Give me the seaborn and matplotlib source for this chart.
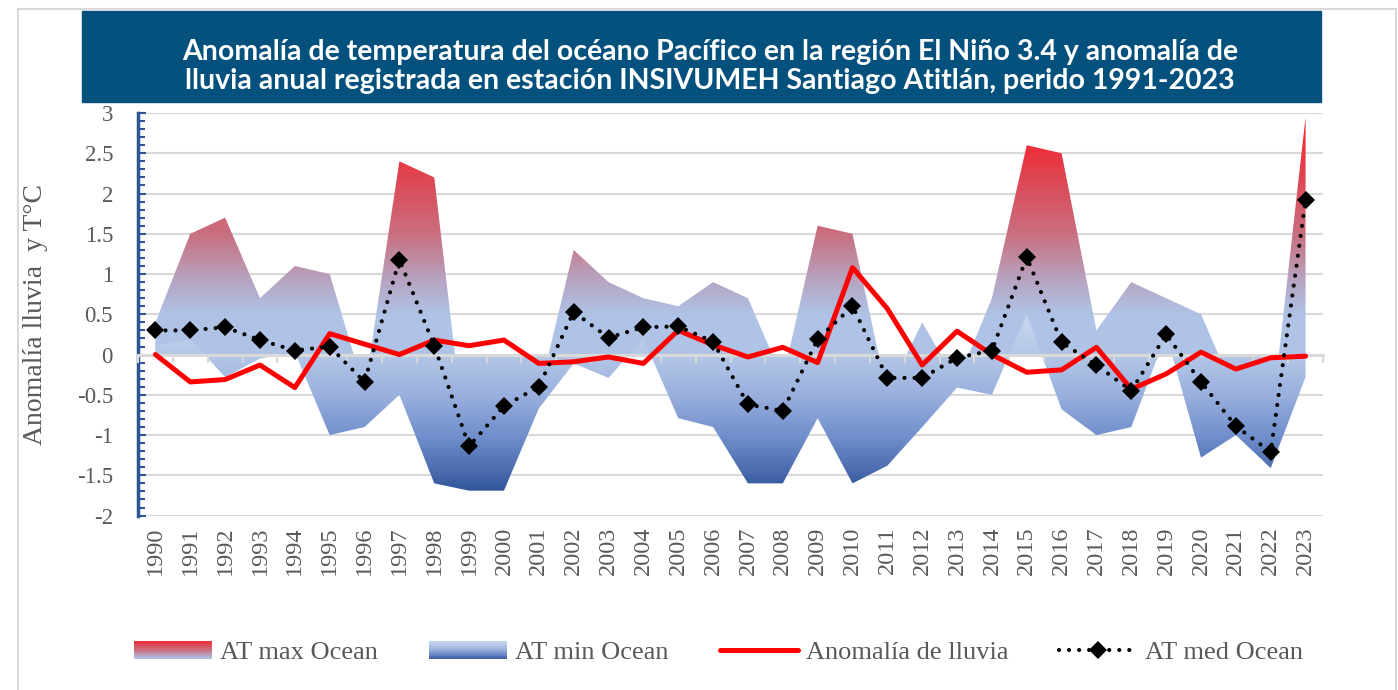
import numpy as np
import pandas as pd
import matplotlib.pyplot as plt
import seaborn as sns
from matplotlib.colors import LinearSegmentedColormap, Normalize
from matplotlib.legend_handler import HandlerBase
from matplotlib.patches import Rectangle
from matplotlib.lines import Line2D
from matplotlib.ticker import MultipleLocator, FuncFormatter

# --- datos ---
years = list(range(1990, 2024))
at_max = [0.4, 1.5, 1.7, 0.7, 1.1, 1.0, -0.45, 2.4, 2.2, -1.5,
          -1.2, -0.5, 1.3, 0.9, 0.7, 0.6, 0.9, 0.7, -0.3, 1.6,
          1.5, -0.5, 0.4, -0.35, 0.7, 2.6, 2.5, 0.3, 0.9, 0.7,
          0.5, -0.5, -0.9, 2.95]
at_min = [0.12, 0.19, -0.28, -0.05, 0.03, -1.0, -0.9, -0.5, -1.6, -1.69,
          -1.69, -0.67, -0.11, -0.29, 0.2, -0.79, -0.9, -1.6, -1.6, -0.79,
          -1.6, -1.38, -0.9, -0.41, -0.5, 0.5, -0.68, -1.0, -0.9, 0.25,
          -1.28, -1.0, -1.41, -0.28]
lluvia = [0.0, -0.34, -0.31, -0.13, -0.41, 0.26, 0.13, 0.0, 0.18, 0.11,
          0.18, -0.11, -0.09, -0.03, -0.11, 0.30, 0.12, -0.03, 0.09, -0.10,
          1.08, 0.57, -0.13, 0.29, 0.0, -0.22, -0.19, 0.09, -0.43, -0.24,
          0.03, -0.18, -0.04, -0.02]
at_med = [0.30, 0.30, 0.34, 0.18, 0.05, 0.10, -0.34, 1.18, 0.11, -1.14,
          -0.64, -0.40, 0.53, 0.21, 0.34, 0.35, 0.16, -0.62, -0.70, 0.19,
          0.60, -0.29, -0.29, -0.04, 0.05, 1.21, 0.15, -0.13, -0.45, 0.25,
          -0.34, -0.89, -1.21, 1.92]

titulo = ("Anomalía de temperatura del océano Pacífico en la región El Niño 3.4 y anomalía de\n"
          "lluvia anual registrada en estación INSIVUMEH Santiago Atitlán, perido 1991-2023")
ylabel = "Anomalía lluvia  y T°C"
nombres = ["AT max Ocean", "AT min Ocean", "Anomalía de lluvia", "AT med Ocean"]

df = pd.DataFrame({"year": years, "lluvia": lluvia, "med": at_med})

YLO, YHI = -2, 3
def make_cmap(stops):
    return LinearSegmentedColormap.from_list(
        "g", [((y - YLO) / (YHI - YLO), c) for y, c in stops])

cmap_max = make_cmap([(-2, "#afc3e6"), (0.5, "#afc3e6"), (0.9, "#b6a6c4"),
                      (1.5, "#c87080"), (2.4, "#e63a46"), (3.0, "#ff1a25")])
cmap_min = make_cmap([(-2, "#2f5597"), (-1.7, "#2f5597"), (-1.45, "#4b6baf"),
                      (-1.0, "#7290cc"), (-0.5, "#9ab0de"), (0.0, "#b4c7e7"),
                      (0.5, "#c9d7f0"), (3, "#d0ddf2")])
norm = Normalize(YLO, YHI)


class GradHandler(HandlerBase):
    def __init__(self, cmap, lo, hi):
        super().__init__()
        self.cmap, self.lo, self.hi = cmap, lo, hi

    def create_artists(self, legend, orig_handle, xdescent, ydescent,
                       width, height, fontsize, trans):
        n = 24
        out = []
        for i in range(n):
            v = self.lo + (self.hi - self.lo) * (i + 0.5) / n
            out.append(Rectangle((-xdescent, -ydescent + height * i / n),
                                 width, height / n + 0.3, lw=0,
                                 facecolor=self.cmap(norm(v)), transform=trans))
        return out


sns.set_theme(style="white")
plt.rcParams["font.family"] = ["Liberation Serif", "DejaVu Serif"]

fig = plt.figure(figsize=(13.98, 6.90), dpi=100)
fig.patches.append(Rectangle((18 / 1398, -0.05), 1378 / 1398, 1.05 - 9 / 690,
                             transform=fig.transFigure, fill=False,
                             edgecolor="#d9d9d9", lw=1.5))
fig.patches.append(Rectangle((82 / 1398, 1 - 102 / 690), 1239 / 1398, 91 / 690,
                             transform=fig.transFigure, color="#03517c"))
fig.text(710 / 1398, 0.904, titulo, ha="center", va="center", color="white",
         fontweight="bold", fontsize=20.5, linespacing=1.15,
         family=["Lato", "DejaVu Sans"])

ax = fig.add_axes([138 / 1398, 1 - 515.6 / 690, 1185 / 1398, 402.6 / 690])

# áreas con degradado
grad = np.linspace(YLO, YHI, 600).reshape(-1, 1)
for serie, cmap, z in [(at_max, cmap_max, 1), (at_min, cmap_min, 2)]:
    poly = ax.fill_between(years, 0, serie, facecolor="none", edgecolor="none")
    im = ax.imshow(grad, cmap=cmap, norm=norm, origin="lower", aspect="auto",
                   extent=[years[0] - 0.5, years[-1] + 0.5, YLO, YHI], zorder=z)
    im.set_clip_path(poly.get_paths()[0], transform=ax.transData)

sns.lineplot(data=df, x="year", y="lluvia", color="#ff0000", lw=3.6, ax=ax,
             zorder=5, legend=False)
sns.lineplot(data=df, x="year", y="med", color="black", lw=3,
             linestyle=(0, (0.01, 2.4)), dash_capstyle="round", marker="D",
             markersize=9, markeredgewidth=0, ax=ax, zorder=6, legend=False)

ax.set_xlim(years[0] - 0.5, years[-1] + 0.5)
ax.set_ylim(YLO, YHI)

# eje horizontal en cero
sec = ax.secondary_xaxis((0 - YLO) / (YHI - YLO))
sec.set_xticks(np.arange(years[0] - 0.5, years[-1] + 1, 1))
sec.tick_params(direction="out", length=6, width=1.5, color="#d9d9d9",
                labelbottom=False)
sec.spines["bottom"].set_color("#d9d9d9")
sec.spines["bottom"].set_linewidth(2.2)
sec.set_zorder(4)

for s in ["top", "right", "bottom"]:
    ax.spines[s].set_visible(False)
ax.spines["left"].set_color("#2f5597")
ax.spines["left"].set_linewidth(2.5)

ax.set_yticks(np.arange(YLO, YHI + 0.01, 0.5))
ax.yaxis.set_minor_locator(MultipleLocator(0.1))
ax.yaxis.set_major_formatter(FuncFormatter(lambda v, _: f"{v:g}"))
ax.tick_params(axis="y", which="both", direction="in", color="#2f5597",
               width=1.5, labelsize=16.5, labelcolor="#595959", pad=18, left=True)
ax.tick_params(axis="y", which="major", length=6)
ax.tick_params(axis="y", which="minor", length=5)
ax.set_xticks(years)
ax.set_xticklabels([str(y) for y in years], rotation=90)
ax.tick_params(axis="x", length=0, labelsize=17.5, labelcolor="#595959", pad=8)
ax.yaxis.grid(True, color="#d9d9d9", lw=1.5)
ax.set_axisbelow(True)
ax.set_xlabel("")
ax.set_ylabel(ylabel, fontsize=20, color="#595959")
ax.yaxis.set_label_coords(-0.076, 0.5)

p_max = Rectangle((0, 0), 1, 1)
p_min = Rectangle((0, 0), 1, 1)
l_rain = Line2D([], [], color="#ff0000", lw=3.6)
l_med = Line2D([], [], color="black", lw=3, linestyle=(0, (0.01, 2.4)),
               dash_capstyle="round", marker="D", markersize=9,
               markeredgewidth=0)
fig.legend([p_max, p_min, l_rain, l_med], nombres, loc="center",
           bbox_to_anchor=(0.514, 0.054), ncol=4, frameon=False, fontsize=19,
           handlelength=2.95, handletextpad=0.3, columnspacing=1.95,
           labelcolor="#595959", numpoints=1,
           handler_map={p_max: GradHandler(cmap_max, 0.4, 2.6),
                        p_min: GradHandler(cmap_min, -1.7, 0.5)})

fig.savefig("out.png", dpi=100)
